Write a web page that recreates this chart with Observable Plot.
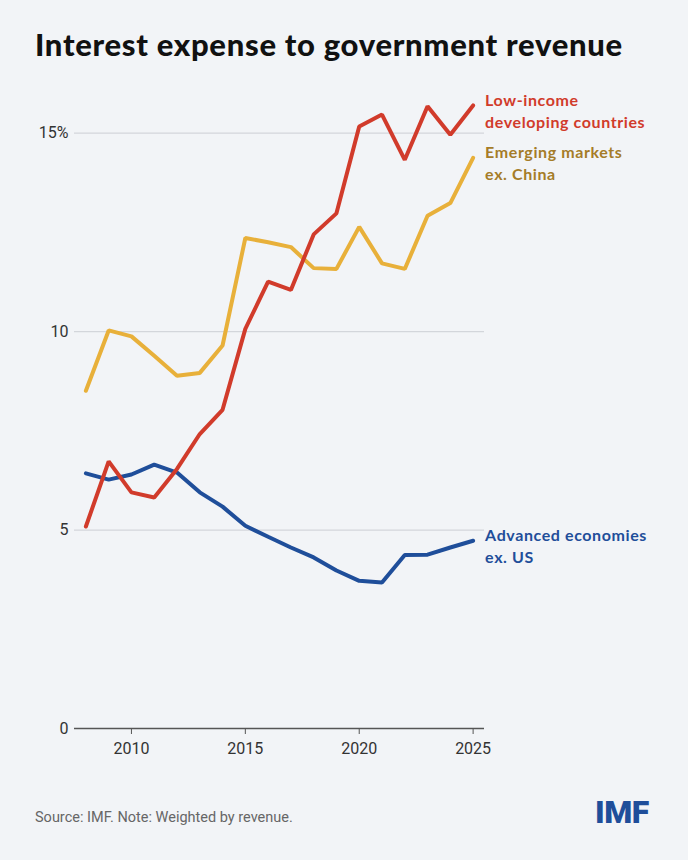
<!DOCTYPE html>
<html>
<head>
<meta charset="utf-8">
<script src="https://cdn.jsdelivr.net/npm/d3@7"></script>
<script src="https://cdn.jsdelivr.net/npm/@observablehq/plot@0.6"></script>
<style>
  html, body { margin: 0; padding: 0; background: #f2f4f7; }
  #wrap { position: relative; width: 688px; height: 860px; background: #f2f4f7; overflow: hidden; }
  #title { position: absolute; left: 35px; top: 29px; font-family: Lato, "Noto Sans", sans-serif; font-weight: 900; font-size: 31px; line-height: 1; letter-spacing: 0.7px; color: #111; white-space: nowrap; }
  #chart { position: absolute; left: 0; top: 90px; }
  #source { position: absolute; left: 35px; top: 809px; font-family: Roboto, "Noto Sans", sans-serif; font-size: 14.5px; color: #666; }
  #logo { position: absolute; left: 595px; top: 793px; font-family: Roboto, "Noto Sans", sans-serif; font-weight: 900; font-size: 32px; color: #1f4e9a; letter-spacing: -0.5px; }
  .series-label { letter-spacing: 0.6px; }
</style>
</head>
<body>
<div id="wrap">
  <div id="title">Interest expense to government revenue</div>
  <div id="chart"></div>
  <div id="source">Source: IMF. Note: Weighted by revenue.</div>
  <div id="logo">IMF</div>
</div>
<script>
const years = [2008, 2009, 2010, 2011, 2012, 2013, 2014, 2015, 2016, 2017, 2018, 2019, 2020, 2021, 2022, 2023, 2024, 2025];
const lowIncome = [5.09, 6.73, 5.95, 5.82, 6.54, 7.42, 8.03, 10.07, 11.26, 11.05, 12.45, 12.98, 15.17, 15.47, 14.33, 15.68, 14.96, 15.70];
const emerging = [8.51, 10.03, 9.88, 9.39, 8.89, 8.96, 9.65, 12.36, 12.25, 12.13, 11.60, 11.58, 12.64, 11.72, 11.58, 12.92, 13.24, 14.38];
const advanced = [6.43, 6.27, 6.40, 6.65, 6.45, 5.95, 5.59, 5.11, 4.83, 4.56, 4.31, 3.98, 3.72, 3.68, 4.37, 4.38, 4.56, 4.73];
const seriesNames = ["Emerging markets\nex. China", "Advanced economies\nex. US", "Low-income\ndeveloping countries"];
const seriesColors = ["#e8b03a", "#1f4e9a", "#d13b2b"];
const labelColors = ["#a57c28", "#1f4e9a", "#d13b2b"];
const yTicks = [0, 5, 10, 15];
const xTicks = [2010, 2015, 2020, 2025];

const seriesValues = [emerging, advanced, lowIncome];
const data = [];
seriesNames.forEach((name, i) => {
  years.forEach((yr, j) => data.push({series: name, year: yr, value: seriesValues[i][j]}));
});
const ends = data.filter(d => d.year === 2025);

const font = "Roboto, 'Noto Sans', sans-serif";
const chart = Plot.plot({
  width: 688,
  height: 690,
  marginLeft: 74,
  marginRight: 204,
  marginTop: 3,
  marginBottom: 52,
  style: {background: "transparent", fontFamily: font, fontSize: "16px", color: "#333", overflow: "visible"},
  x: {domain: [2007.5, 2025.5], label: null},
  y: {domain: [0, 16], label: null},
  color: {domain: seriesNames, range: seriesColors},
  marks: [
    Plot.ruleY(yTicks.filter(t => t > 0), {stroke: "#d3d6db", strokeWidth: 1.2}),
    Plot.axisY(yTicks, {tickSize: 0, tickPadding: 6, fontSize: 16, fill: "#333",
      tickFormat: d => d === 15 ? "15%" : String(d)}),
    Plot.ruleY([0], {stroke: "#555", strokeWidth: 1.6}),
    Plot.axisX(xTicks, {tickSize: 6, tickPadding: 8, fontSize: 16, fill: "#333", stroke: "#555", tickFormat: d => String(d)}),
    Plot.line(data, {x: "year", y: "value", z: "series", stroke: "series", strokeWidth: 4, strokeLinecap: "round", strokeLinejoin: "miter"}),
    Plot.text(ends, {x: "year", y: "value", text: "series", fill: (d) => labelColors[seriesNames.indexOf(d.series)],
      textAnchor: "start", lineAnchor: "top", dx: 12, dy: -15, lineHeight: 1.375,
      fontSize: 16, fontWeight: 700, fontFamily: "Lato, " + font, className: "series-label"})
  ]
});
document.getElementById("chart").appendChild(chart);
</script>
</body>
</html>
